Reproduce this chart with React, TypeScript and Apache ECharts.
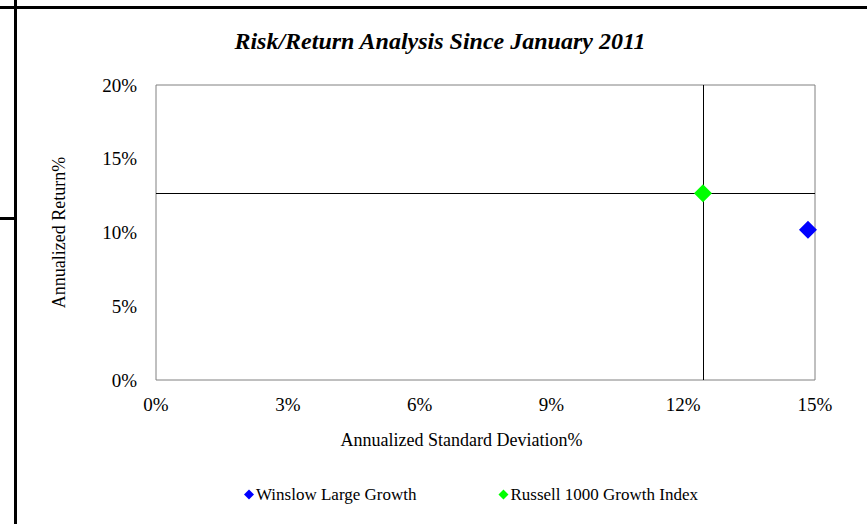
import React, { useEffect, useRef } from "react";
import * as echarts from "echarts";

const seriesNames = ["Winslow Large Growth", "Russell 1000 Growth Index"];
const seriesColors = ["#0000ff", "#00ff00"];
const stdDev = [14.84, 12.45];
const annReturn = [10.19, 12.66];
const xTicks = { min: 0, max: 15, interval: 3 };
const yTicks = { min: 0, max: 20, interval: 5 };

const FONT = '"Liberation Serif", "Times New Roman", serif';

export default function App() {
  const ref = useRef<HTMLDivElement>(null);
  useEffect(() => {
    if (!ref.current) return;
    const chart = echarts.init(ref.current, undefined, { renderer: "svg" });
    const series: any[] = seriesNames.map((name, i) => {
      const s: any = {
        name,
        type: "scatter",
        symbol: "diamond",
        symbolSize: 18,
        itemStyle: { color: seriesColors[i], opacity: 1 },
        data: [[stdDev[i], annReturn[i]]],
        z: 5,
      };
      if (i === 1) {
        s.markLine = {
          silent: true,
          symbol: "none",
          label: { show: false },
          lineStyle: { color: "#000", width: 1, type: "solid" },
          data: [{ xAxis: stdDev[i] }, { yAxis: annReturn[i] }],
          z: 2,
        };
      }
      return s;
    });
    chart.setOption({
      animation: false,
      backgroundColor: "#fff",
      textStyle: { fontFamily: FONT },
      title: {
        text: "Risk/Return Analysis Since January 2011",
        left: 435,
        textAlign: "center",
        top: 24,
        textStyle: {
          fontFamily: FONT,
          fontSize: 24,
          fontWeight: "bold",
          fontStyle: "italic",
          color: "#000",
        },
      },
      grid: {
        left: 156,
        top: 85,
        right: 52,
        bottom: 144,
        show: true,
        borderColor: "#808080",
        borderWidth: 1,
        backgroundColor: "#fff",
      },
      legend: {
        left: 239,
        top: 481,
        icon: "diamond",
        itemWidth: 10,
        itemHeight: 10,
        itemGap: 82,
        textStyle: { fontFamily: FONT, fontSize: 17, color: "#000", padding: [0, 0, 0, -3] },
        data: seriesNames,
      },
      xAxis: {
        type: "value",
        min: xTicks.min,
        max: xTicks.max,
        interval: xTicks.interval,
        name: "Annualized Standard Deviation%",
        nameLocation: "middle",
        nameGap: 51,
        nameTextStyle: { fontFamily: FONT, fontSize: 18, color: "#000", padding: [0, 48, 0, 0] },
        axisLine: { show: false },
        axisTick: { show: false },
        splitLine: { show: false },
        axisLabel: {
          formatter: "{value}%",
          fontFamily: FONT,
          fontSize: 19,
          color: "#000",
          margin: 15,
        },
      },
      yAxis: {
        type: "value",
        min: yTicks.min,
        max: yTicks.max,
        interval: yTicks.interval,
        name: "Annualized Return%",
        nameLocation: "middle",
        nameGap: 88,
        nameTextStyle: { fontFamily: FONT, fontSize: 18, color: "#000" },
        axisLine: { show: false },
        axisTick: { show: false },
        splitLine: { show: false },
        axisLabel: {
          formatter: "{value}%",
          fontFamily: FONT,
          fontSize: 19,
          color: "#000",
          margin: 19,
        },
      },
      graphic: [
        { type: "line", shape: { x1: 0, y1: 7.5, x2: 867, y2: 7.5 }, style: { stroke: "#000", lineWidth: 3 } },
        { type: "line", shape: { x1: 15.5, y1: 0, x2: 15.5, y2: 524 }, style: { stroke: "#000", lineWidth: 3 } },
        { type: "line", shape: { x1: 0, y1: 218.5, x2: 15.5, y2: 218.5 }, style: { stroke: "#000", lineWidth: 3 } },
      ],
      series,
    });
    return () => chart.dispose();
  }, []);
  return (
    <div
      ref={ref}
      style={{ position: "fixed", left: 0, top: 0, width: 867, height: 524, background: "#fff" }}
    />
  );
}
